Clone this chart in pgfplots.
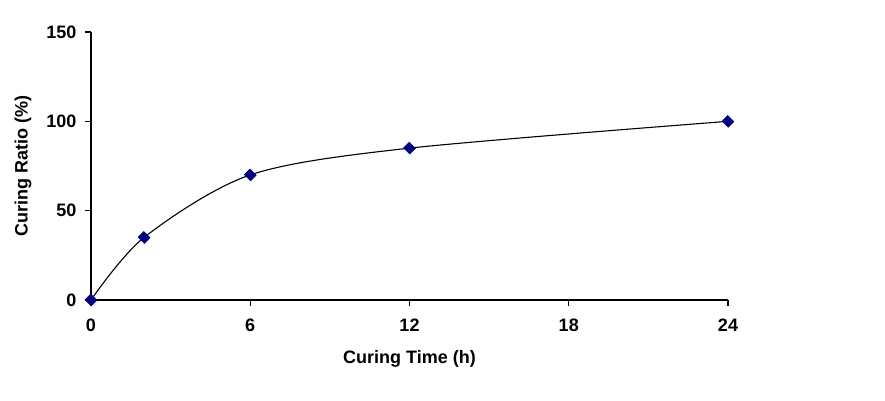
\documentclass[border=0pt]{standalone}
\usepackage{pgfplots}
\pgfplotsset{compat=1.18}
\usepackage{fontspec}
\setmainfont{Liberation Sans}
\definecolor{navyd}{RGB}{0,0,128}
\begin{document}
\begin{tikzpicture}[font=\fontsize{18}{21}\selectfont\bfseries]
\path[use as bounding box] (0pt,0pt) rectangle (885pt,400pt);
\begin{axis}[
  at={(91pt,100pt)}, anchor=south west,
  width=637pt, height=268pt, scale only axis=true,
  xmin=0, xmax=24, ymin=0, ymax=150,
  axis lines=left,
  axis line style={-, black, line width=1.2pt},
  xtick={0,6,12,18,24}, ytick={0,50,100,150},
  tick align=outside,
  major tick length=6pt,
  tick style={black, line width=1.2pt},
  xticklabel style={yshift=-9pt},
  yticklabel style={xshift=-5pt},
  tick label style={font=\fontsize{18}{21}\selectfont\bfseries},
  /pgf/number format/assume math mode=true,
  xlabel={Curing Time (h)},
  ylabel={Curing Ratio (\%)},
  label style={font=\fontsize{18}{21}\selectfont\bfseries},
  xlabel style={at={(axis description cs:0.5,0)}, anchor=north, yshift=-47pt},
  ylabel style={at={(axis description cs:0,0.5)}, anchor=south, yshift=56pt},
  clip=false,
]
\addplot[black, line width=1.1pt, smooth, tension=0.5, mark=square*, mark size=4pt,
  mark options={fill=navyd, draw=navyd, line width=0.5pt, rotate=45, yscale=1.1}]
  coordinates {(0,0) (2,35) (6,70) (12,85) (24,100)};
\end{axis}
\end{tikzpicture}
\end{document}
